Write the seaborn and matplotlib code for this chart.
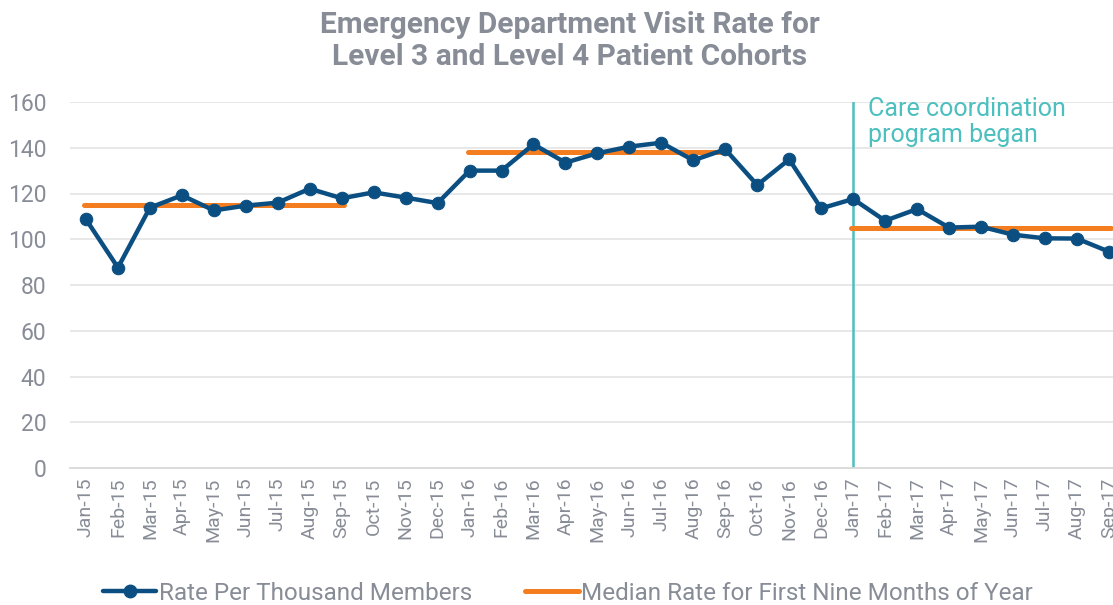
import matplotlib
matplotlib.use("Agg")
import matplotlib.pyplot as plt
import seaborn as sns
import pandas as pd
import numpy as np
from matplotlib.ticker import FixedLocator
from matplotlib.lines import Line2D

months = ["Jan-15", "Feb-15", "Mar-15", "Apr-15", "May-15", "Jun-15", "Jul-15", "Aug-15",
          "Sep-15", "Oct-15", "Nov-15", "Dec-15", "Jan-16", "Feb-16", "Mar-16", "Apr-16",
          "May-16", "Jun-16", "Jul-16", "Aug-16", "Sep-16", "Oct-16", "Nov-16", "Dec-16",
          "Jan-17", "Feb-17", "Mar-17", "Apr-17", "May-17", "Jun-17", "Jul-17", "Aug-17",
          "Sep-17"]
rate = [108.7, 87.6, 113.8, 119.2, 112.6, 114.7, 116.0, 122.1,
        117.9, 120.5, 118.2, 115.8, 130.0, 130.0, 141.5, 133.5,
        137.6, 140.5, 142.2, 134.5, 139.3, 123.7, 134.9, 113.5,
        117.6, 108.1, 113.2, 105.1, 105.5, 102.0, 100.4, 100.3,
        94.6]
median_values = [115, 138, 105]
median_start = ["Jan-15", "Jan-16", "Jan-17"]
median_end = ["Sep-15", "Sep-16", "Sep-17"]
program_start = "Jan-17"
y_ticks = [0, 20, 40, 60, 80, 100, 120, 140, 160]

BLUE = "#0B4F82"
ORANGE = "#F47D20"
TEAL = "#4CBFBF"
GRAY = "#878C96"

sns.set_theme(style="white")
plt.rcParams["font.family"] = ["Roboto", "DejaVu Sans"]

df = pd.DataFrame({"idx": np.arange(len(months)), "month": months, "rate": rate})

fig = plt.figure(figsize=(11.13, 6.05), dpi=100)
ax = fig.add_axes([70 / 1113, 1 - 468 / 605, 1 - 70 / 1113, (468 - 102) / 605])

# grid
for yv in y_ticks[1:]:
    ax.axhline(yv, color="#E6E6E6", lw=1.3, zorder=0)

# median lines
for v, s, e in zip(median_values, median_start, median_end):
    xs = [months.index(s) - 0.06, months.index(e) + 0.06]
    ax.plot(xs, [v, v], color=ORANGE, lw=3.6, solid_capstyle="round", zorder=3)

# program began vertical line
px = months.index(program_start)
ax.plot([px, px], [0, 160], color=TEAL, lw=1.8, zorder=2)
ax.text(px + 0.45, 162, "Care coordination\nprogram began", color=TEAL, fontsize=18,
        va="top", ha="left", linespacing=1.1)

sns.lineplot(data=df, x="idx", y="rate", ax=ax, color=BLUE, lw=3.2, marker="o",
             markersize=9, markeredgecolor=BLUE, zorder=4, legend=False)

ax.set_xlim(-0.5, 32.13)
ax.set_ylim(0, 160)
ax.set_yticks(y_ticks)
ax.set_yticklabels([str(v) for v in y_ticks])
ax.set_xticks(np.arange(len(months)))
ax.set_xticklabels(months, rotation=90)
ax.xaxis.set_minor_locator(FixedLocator(np.arange(-0.5, len(months), 1.0)))
ax.tick_params(axis="x", which="major", length=0, pad=7, labelsize=14, labelcolor=GRAY)
ax.tick_params(axis="x", which="minor", length=6, width=1, color="#D9D9D9", direction="out")
ax.tick_params(axis="y", length=0, pad=17, labelsize=16.5, labelcolor=GRAY)
ax.set_xlabel("")
ax.set_ylabel("")

for side in ["top", "right", "left"]:
    ax.spines[side].set_visible(False)
ax.spines["bottom"].set_color("#D9D9D9")
ax.spines["bottom"].set_linewidth(1.3)

fig.text(570 / 1113, 1 - 41 / 605, "Emergency Department Visit Rate for\nLevel 3 and Level 4 Patient Cohorts",
         ha="center", va="center", fontsize=21.5, fontweight="bold", color=GRAY, linespacing=1.15)

h1 = Line2D([], [], color=BLUE, lw=3.2, marker="o", markersize=9)
h2 = Line2D([], [], color=ORANGE, lw=3.6)
fig.legend([h1, h2], ["Rate Per Thousand Members", "Median Rate for First Nine Months of Year"],
           loc="center", bbox_to_anchor=(568 / 1113, 1 - 593 / 605), ncol=2, frameon=False,
           fontsize=17.5, labelcolor=GRAY, handlelength=2.2, handletextpad=0.1,
           columnspacing=2.2)

fig.savefig("out.png", dpi=100)
